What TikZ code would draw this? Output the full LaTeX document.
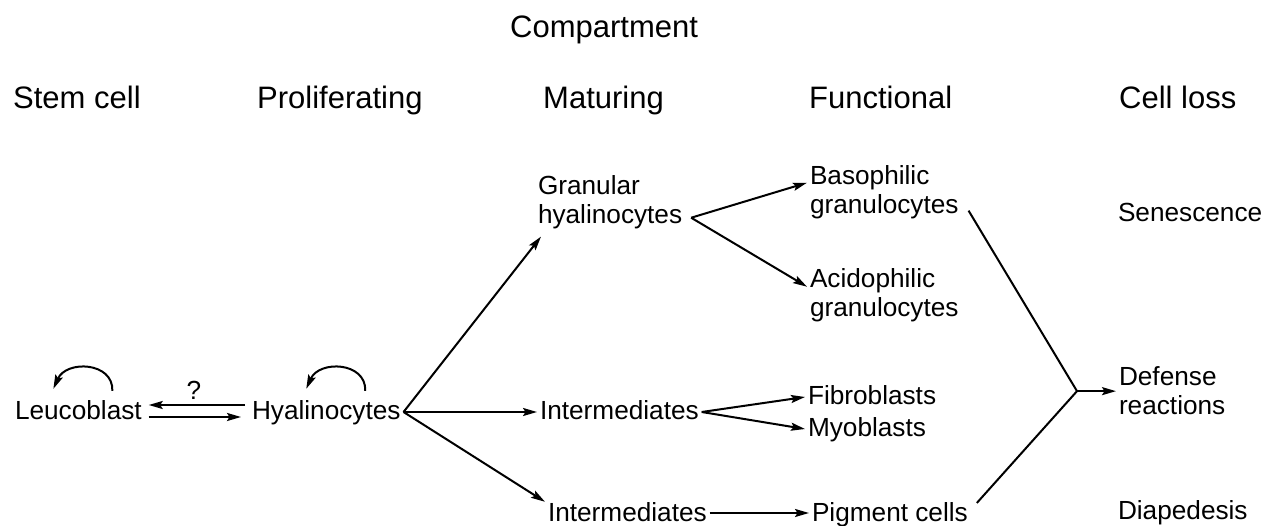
\documentclass[tikz,border=0pt]{standalone}
\usepackage{fontspec}
\setmainfont{Liberation Sans}
\usetikzlibrary{arrows.meta,calc}
\newcommand{\headfont}{\fontsize{31}{36}\selectfont}
\newcommand{\cellfont}{\fontsize{26.2}{29}\selectfont}
\begin{document}
\begin{tikzpicture}[x=1pt, y=-1pt,
    head/.style={font=\headfont, anchor=base west, inner sep=0pt},
    cell/.style={font=\cellfont, anchor=base west, inner sep=0pt, outer xsep=3pt, text height=19pt, text depth=3pt},
    pair/.style={font=\cellfont, anchor=base west, inner sep=0pt, outer xsep=3pt, align=left},
    flow/.style={line width=2pt, -{Stealth[length=14pt, width=8pt, inset=2.5pt]}},
    edge/.style={line width=2pt}]
    \useasboundingbox (0,0) rectangle (1280,526);

    % compartments
    \node[head] (comp) at (510,38) {Compartment};
    \node[head] (hstem) at (13,109) {Stem cell};
    \node[head] (hprol) at (257,109) {Proliferating};
    \node[head] (hmat) at (543,109) {Maturing};
    \node[head] (hfun) at (809,109) {Functional};
    \node[head] (hloss) at (1119,109) {Cell loss};

    % cells (base of a pair is its last line)
    \node[cell] (leu) at (12,420) {Leucoblast};
    \node[cell] (hy) at (249,420) {Hyalinocytes};
    \node[font=\cellfont, anchor=base, inner sep=0pt] (q) at (194,400) {?};
    \node[pair] (gh) at (535,224) {Granular\\hyalinocytes};
    \node[cell] (mi) at (537,420) {Intermediates};
    \node[cell] (mb) at (545,521) {Intermediates};
    \node[pair] (baso) at (807,214) {Basophilic\\granulocytes};
    \node[pair] (acid) at (807,317) {Acidophilic\\granulocytes};
    \node[cell] (fib) at (805,405) {Fibroblasts};
    \node[cell] (myo) at (805,437) {Myoblasts};
    \node[cell] (pig) at (809,521) {Pigment cells};
    \node[cell] (sen) at (1115,222) {Senescence};
    \node[pair] (def) at (1116,415) {Defense\\reactions};
    \node[cell] (dia) at (1115,519) {Diapedesis};

    % self renewal
    \draw[flow] ($(leu.north)+(34,-10)$) .. controls +(1,-29) and +(13,-29) .. ($(leu.north)+(-25,-12)$);
    \draw[flow] ($(hy.north)+(39,-10)$) .. controls +(1,-29) and +(13,-29) .. ($(hy.north)+(-20,-12)$);
    \draw[flow, shorten <=4pt, shorten >=4pt] ([yshift=7pt]hy.west) -- ([yshift=7pt]leu.east);
    \draw[flow, shorten <=4pt, shorten >=8pt] ([yshift=-5pt]leu.east) -- ([yshift=-5pt]hy.west);

    \draw[flow] (hy.east) -- ([shift={(6pt,-7pt)}]gh.south west);
    \draw[flow] (hy.east) -- (mi.west);
    \draw[flow] (hy.east) -- (mb.north west);

    \coordinate (ghfork) at ([shift={(6pt,-15pt)}]gh.east);
    \draw[flow] (ghfork) -- ([yshift=10pt]baso.west);
    \draw[flow] (ghfork) -- ([yshift=9pt]acid.west);
    \draw[flow] (mi.east) -- (fib.west);
    \draw[flow] (mi.east) -- (myo.west);
    \draw[flow] (mb.east) -- (pig.west);

    % cell loss
    \coordinate (join) at ($(def.west)+(-39,0)$);
    \draw[edge] ([shift={(7pt,9pt)}]baso.south east) -- (join);
    \draw[edge] ([shift={(6pt,10pt)}]pig.east) -- (join);
    \draw[flow] (join) -- (def.west);
\end{tikzpicture}
\end{document}
